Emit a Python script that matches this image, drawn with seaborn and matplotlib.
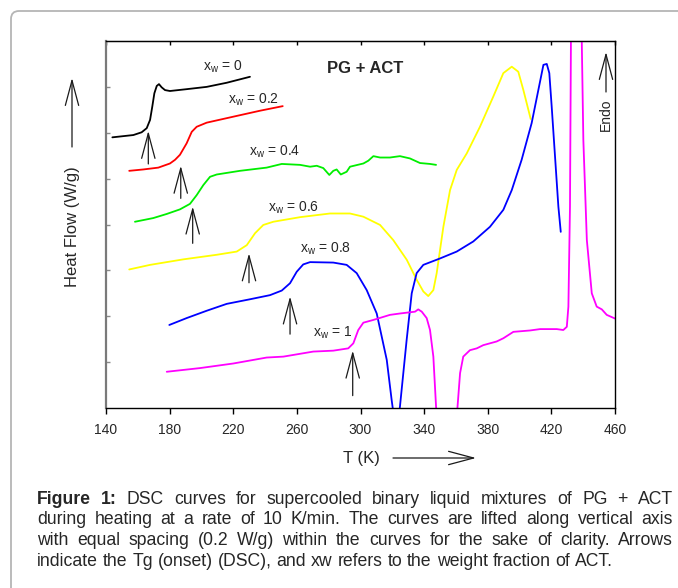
import matplotlib
matplotlib.use("Agg")
import matplotlib.pyplot as plt
import seaborn as sns
from matplotlib.patches import FancyBboxPatch

# DSC curves, temperature (K) and lifted heat flow (arbitrary units, 0.2 W/g per step)
T_x0 = [144.0, 157.2, 162.4, 165.6, 167.7, 169.1, 170.4, 171.9, 173.3, 175.0, 177.1, 180.2,
        190.7, 203.3, 215.9, 230.5]
hf_x0 = [5.90, 5.95, 6.01, 6.10, 6.28, 6.57, 6.86, 7.02, 7.06, 6.99, 6.93, 6.91,
         6.95, 7.00, 7.09, 7.22]

T_x02 = [154.6, 163.5, 172.9, 180.2, 183.4, 186.5, 190.7, 193.9, 197.0, 203.3, 220.0, 236.8, 251.1]
hf_x02 = [5.17, 5.20, 5.24, 5.33, 5.41, 5.52, 5.77, 6.02, 6.13, 6.22, 6.35, 6.48, 6.58]

T_x04 = [158.2, 169.7, 178.2, 186.5, 192.8, 197.0, 201.2, 205.4, 209.6, 224.2, 241.0, 250.5,
         262.0, 268.3, 272.5, 276.6, 280.4, 282.9, 285.0, 287.6, 291.3, 293.4, 301.8, 304.9,
         308.1, 312.3, 318.5, 324.8, 331.1, 337.4, 343.7, 347.5]
hf_x04 = [4.06, 4.14, 4.23, 4.33, 4.45, 4.64, 4.86, 5.04, 5.09, 5.17, 5.24, 5.32,
          5.30, 5.26, 5.28, 5.23, 5.08, 5.17, 5.20, 5.09, 5.15, 5.26, 5.33, 5.39,
          5.49, 5.46, 5.46, 5.49, 5.44, 5.34, 5.32, 5.30]

T_x06 = [154.6, 167.7, 188.6, 209.6, 222.2, 228.5, 233.7, 238.9, 245.2, 262.0, 280.8, 293.4,
         301.8, 312.3, 320.6, 329.1, 335.4, 339.5, 342.6, 345.8, 347.9, 352.1, 356.3, 360.5,
         366.8, 375.1, 383.5, 389.8, 395.1, 399.2, 402.4, 407.0]
hf_x06 = [3.02, 3.12, 3.24, 3.34, 3.41, 3.55, 3.81, 3.99, 4.06, 4.16, 4.24, 4.24,
          4.17, 3.99, 3.66, 3.23, 2.79, 2.54, 2.44, 2.57, 2.94, 3.95, 4.75, 5.19,
          5.55, 6.13, 6.79, 7.30, 7.44, 7.33, 6.93, 6.30]

T_x08 = [179.8, 190.7, 203.3, 215.9, 230.5, 243.1, 250.5, 255.7, 259.9, 264.0, 268.3, 282.9,
         291.3, 297.6, 303.9, 310.2, 316.5, 319.6, 322.6, 324.8, 329.0, 332.2, 335.3, 339.5,
         350.0, 360.5, 370.9, 381.4, 389.8, 395.1, 401.3, 407.6, 411.8, 415.0, 417.1, 418.7,
         420.2, 422.3, 424.4, 425.9]
hf_x08 = [1.81, 1.96, 2.12, 2.27, 2.37, 2.46, 2.56, 2.72, 2.97, 3.13, 3.18, 3.17,
          3.12, 2.94, 2.57, 2.06, 1.05, 0.17, -0.60, 0.03, 1.48, 2.50, 2.94, 3.12,
          3.26, 3.41, 3.63, 3.95, 4.32, 4.75, 5.41, 6.21, 6.93, 7.48, 7.50, 7.30,
          6.57, 5.48, 4.39, 3.84]

T_x1 = [178.2, 199.1, 220.0, 241.0, 251.5, 270.3, 282.9, 292.3, 295.5, 298.6, 301.8, 308.1,
        318.5, 324.8, 334.3, 336.3, 338.5, 341.6, 343.7, 345.8, 347.5, 349.5, 352.0, 356.0,
        359.0, 361.0, 362.6, 364.6, 368.8, 373.1, 377.2, 385.6, 389.8, 396.1, 406.6, 412.9,
        423.4, 427.5, 429.7, 430.7, 431.7, 432.3, 435.5, 439.1, 440.1, 442.3, 445.4, 448.5,
        451.7, 454.8, 460.0]
hf_x1 = [0.79, 0.87, 0.97, 1.10, 1.12, 1.23, 1.25, 1.30, 1.41, 1.70, 1.86, 1.92,
         2.03, 2.06, 2.10, 2.15, 2.10, 1.96, 1.70, 1.12, 0.03, -0.80, -1.50, -1.50,
         -0.80, 0.03, 0.76, 1.12, 1.26, 1.30, 1.37, 1.45, 1.52, 1.66, 1.69, 1.72,
         1.72, 1.70, 1.77, 2.21, 4.39, 8.02, 11.00, 8.02, 5.84, 3.66, 2.50, 2.21,
         2.15, 2.03, 1.95]

curve_colors = ['black', '#ff0000', '#00ee00', '#ffff00', '#0000ff', '#ff00ff']
curve_labels = ['0', '0.2', '0.4', '0.6', '0.8', '1']

# label positions (T, hf) and Tg onset arrows
label_T = [213.6, 233.0, 246.2, 257.6, 278.0, 282.7]
label_hf = [7.43, 6.71, 5.58, 4.36, 3.47, 1.63]
tg_T = [166.6, 187.0, 194.5, 229.9, 255.7, 295.1]
tg_tip = [6.04, 5.28, 4.39, 3.37, 2.43, 1.25]
tg_base = [5.32, 4.57, 3.59, 2.73, 1.61, 0.27]

caption = [
    [("Figure", True), ("1:", True), ("DSC", False), ("curves", False), ("for", False),
     ("supercooled", False), ("binary", False), ("liquid", False), ("mixtures", False),
     ("of", False), ("PG", False), ("+", False), ("ACT", False)],
    [(w, False) for w in "during heating at a rate of 10 K/min. The curves are lifted along vertical axis".split()],
    [(w, False) for w in "with equal spacing (0.2 W/g) within the curves for the sake of clarity. Arrows".split()],
    [(w, False) for w in "indicate the Tg (onset) (DSC), and xw refers to the weight fraction of ACT.".split()],
]

sns.set_style("white")
plt.rcParams['font.family'] = ['Liberation Sans', 'DejaVu Sans']
plt.rcParams['mathtext.fontset'] = 'custom'
plt.rcParams['mathtext.rm'] = 'Liberation Sans'
plt.rcParams['mathtext.it'] = 'Liberation Sans:italic'

W, H = 678, 588
fig = plt.figure(figsize=(W / 100, H / 100), dpi=100)
ax = fig.add_axes([106 / W, 1 - 408 / H, (615 - 106) / W, (408 - 41) / H])

series = [(T_x0, hf_x0), (T_x02, hf_x02), (T_x04, hf_x04),
          (T_x06, hf_x06), (T_x08, hf_x08), (T_x1, hf_x1)]
for (t, y), c in zip(series, curve_colors):
    sns.lineplot(x=t, y=y, color=c, lw=1.3, ax=ax, estimator=None, sort=False)

for t, y, lab in zip(label_T, label_hf, curve_labels):
    ax.text(t, y, r'x$_\mathrm{w}$ = ' + lab, fontsize=10, ha='center', va='center')

arrow_style = dict(arrowstyle='->,head_length=1.8,head_width=0.48', color='#1a1a1a',
                   lw=0.9, shrinkA=0, shrinkB=0)
for t, tip, base in zip(tg_T, tg_tip, tg_base):
    ax.annotate('', xy=(t, tip), xytext=(t, base), arrowprops=arrow_style)

ax.text(303.1, 7.41, 'PG + ACT', fontsize=12, weight='bold', ha='center', va='center')

ax.set_xlim(140, 460)
ax.set_ylim(0, 8)
ax.set_xticks(range(140, 461, 40))
ax.set_yticks(range(1, 8))
ax.set_yticklabels([])
ax.set_xlabel('')
ax.set_ylabel('')
ax.tick_params(axis='x', bottom=True, direction='out', length=4, width=1,
               labelsize=10, pad=7, color='black')
ax.tick_params(axis='y', left=True, direction='in', length=3, width=1, color='#8a8a8a')
for s in ['top', 'right', 'bottom']:
    ax.spines[s].set_color('black')
    ax.spines[s].set_linewidth(1.0)
ax.spines['left'].set_color('#7a7a7a')
ax.spines['left'].set_linewidth(1.6)

secx = ax.secondary_xaxis('top')
secx.set_xticks(range(140, 461, 40))
secx.tick_params(axis='x', top=True, bottom=False, direction='in', length=3,
                 width=1, labeltop=False, color='black')

# axis titles with arrows
fig.text(73 / W, 1 - 227 / H, 'Heat Flow (W/g)', rotation=90, fontsize=12,
         ha='center', va='center')
ax.annotate('', xy=(72, H - 78), xytext=(72, H - 147), xycoords='figure pixels',
            textcoords='figure pixels', arrowprops=arrow_style)
fig.text(361 / W, 1 - 458 / H, 'T (K)', fontsize=12, ha='center', va='center')
ax.annotate('', xy=(476, H - 458), xytext=(393, H - 458), xycoords='figure pixels',
            textcoords='figure pixels', arrowprops=arrow_style)
fig.text(606 / W, 1 - 115 / H, 'Endo', rotation=90, fontsize=10, ha='center', va='center')
ax.annotate('', xy=(606, H - 52), xytext=(606, H - 92), xycoords='figure pixels',
            textcoords='figure pixels', arrowprops=arrow_style)

# page frame
frame = FancyBboxPatch((0.11, -1.0), 8.0, 5.77 + 1.0,
                       boxstyle='round,pad=0,rounding_size=0.08',
                       transform=fig.dpi_scale_trans, fill=False,
                       ec='#b5b5b5', lw=1.3, clip_on=False)
fig.add_artist(frame)

# justified caption
renderer = fig.canvas.get_renderer()
cap_y = [499, 520, 540.5, 561]
cap_size = 12.7
x0, x1 = 37, 673
for i, words in enumerate(caption):
    texts = [fig.text(0, 1 - cap_y[i] / H, w, fontsize=cap_size,
                      weight='bold' if b else 'normal', va='center', ha='left')
             for w, b in words]
    widths = [t.get_window_extent(renderer).width for t in texts]
    if i < len(caption) - 1:
        gap = (x1 - x0 - sum(widths)) / (len(words) - 1)
    else:
        gap = cap_size * 0.278 * 100 / 72
    x = x0
    for t, w in zip(texts, widths):
        t.set_x(x / W)
        x += w + gap

fig.savefig('out.png', dpi=100)
